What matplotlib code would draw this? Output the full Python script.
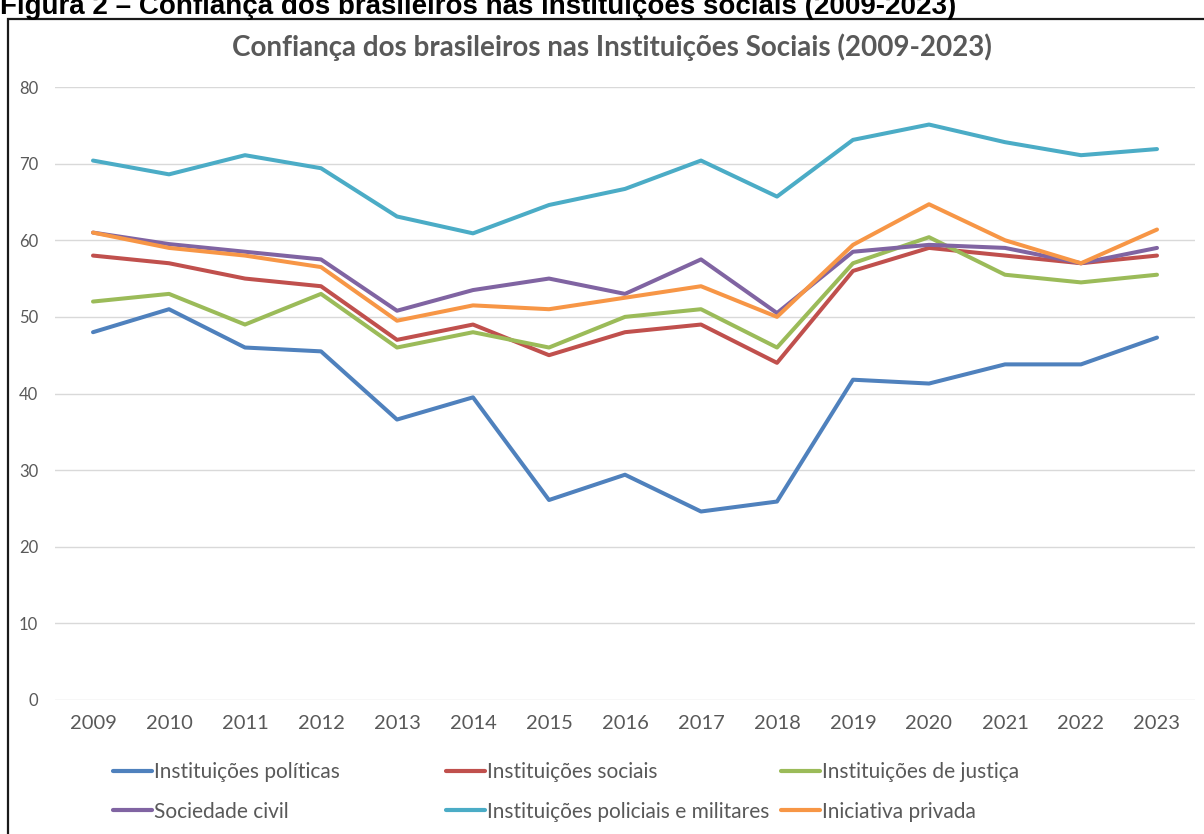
import matplotlib.pyplot as plt
from matplotlib.patches import Rectangle
from matplotlib.lines import Line2D

plt.rcParams['font.family'] = ['Lato', 'DejaVu Sans']

anos = ['2009', '2010', '2011', '2012', '2013', '2014', '2015', '2016',
        '2017', '2018', '2019', '2020', '2021', '2022', '2023']

politicas = [48, 51, 46, 45.5, 36.6, 39.5, 26.1, 29.4, 24.6, 25.9, 41.8, 41.3, 43.8, 43.8, 47.3]
sociais = [58, 57, 55, 54, 47, 49, 45, 48, 49, 44, 56, 59, 58, 57, 58]
justica = [52, 53, 49, 53, 46, 48, 46, 50, 51, 46, 57, 60.4, 55.5, 54.5, 55.5]
civil = [61, 59.5, 58.5, 57.5, 50.8, 53.5, 55, 53, 57.5, 50.5, 58.5, 59.4, 59, 57, 59]
policiais = [70.4, 68.6, 71.1, 69.4, 63.1, 60.9, 64.6, 66.7, 70.4, 65.7, 73.1, 75.1, 72.8, 71.1, 71.9]
privada = [61, 59, 58, 56.5, 49.5, 51.5, 51, 52.5, 54, 50, 59.4, 64.7, 60, 57, 61.4]

series = [
    ('Instituições políticas', politicas, '#4F81BD'),
    ('Instituições sociais', sociais, '#C0504D'),
    ('Instituições de justiça', justica, '#9BBB59'),
    ('Sociedade civil', civil, '#8064A2'),
    ('Instituições policiais e militares', policiais, '#4BACC6'),
    ('Iniciativa privada', privada, '#F79646'),
]

W, H = 1204, 834
fig = plt.figure(figsize=(W / 100, H / 100), dpi=100)

# caption above the frame (partly cut off at the top)
fig.text(0, (H - 14) / H, 'Figura 2 – Confiança dos brasileiros nas instituições sociais (2009-2023)',
         family='Liberation Sans', fontweight='bold', fontsize=20, va='baseline', ha='left')

# frame around the chart
fig.patches.append(Rectangle((8 / W, -0.05), 1.1, (H - 19) / H + 0.05, transform=fig.transFigure,
                             fill=False, edgecolor='#1a1a1a', lw=1.6))

ax = fig.add_axes([55 / W, (H - 700) / H, (1195 - 55) / W, (700 - 87) / H])
x = list(range(len(anos)))
handles = []
for nome, vals, cor in series:
    ax.plot(x, vals, color=cor, lw=2.9, solid_capstyle='round', solid_joinstyle='round')
    handles.append(Line2D([], [], color=cor, lw=3, solid_capstyle='round', label=nome))

ax.set_xlim(-0.5, len(anos) - 0.5)
ax.set_ylim(0, 80)
ax.set_yticks(range(0, 81, 10))
ax.set_xticks(x)
ax.set_xticklabels(anos)
ax.grid(axis='y', color='#d9d9d9', lw=1)
ax.set_axisbelow(True)
for s in ax.spines.values():
    s.set_visible(False)
ax.tick_params(length=0, labelcolor='#595959')
ax.tick_params(axis='x', labelsize=14.5, pad=11)
ax.tick_params(axis='y', labelsize=12, pad=12)

fig.text(612 / W, (H - 47) / H, 'Confiança dos brasileiros nas Instituições Sociais (2009-2023)',
         ha='center', va='center', fontsize=20, fontweight='bold', color='#595959')

# legend: three columns, two rows each
colunas = [(handles[0], handles[3], 113), (handles[1], handles[4], 446), (handles[2], handles[5], 781)]
for h1, h2, xpos in colunas:
    leg = fig.legend(handles=[h1, h2], loc='center left', bbox_to_anchor=(xpos / W, (H - 792) / H),
                     frameon=False, fontsize=15, handlelength=1.85, handletextpad=0.12,
                     labelspacing=0.93, borderaxespad=0, borderpad=0)
    for t in leg.get_texts():
        t.set_color('#595959')

fig.savefig('out.png', dpi=100)
